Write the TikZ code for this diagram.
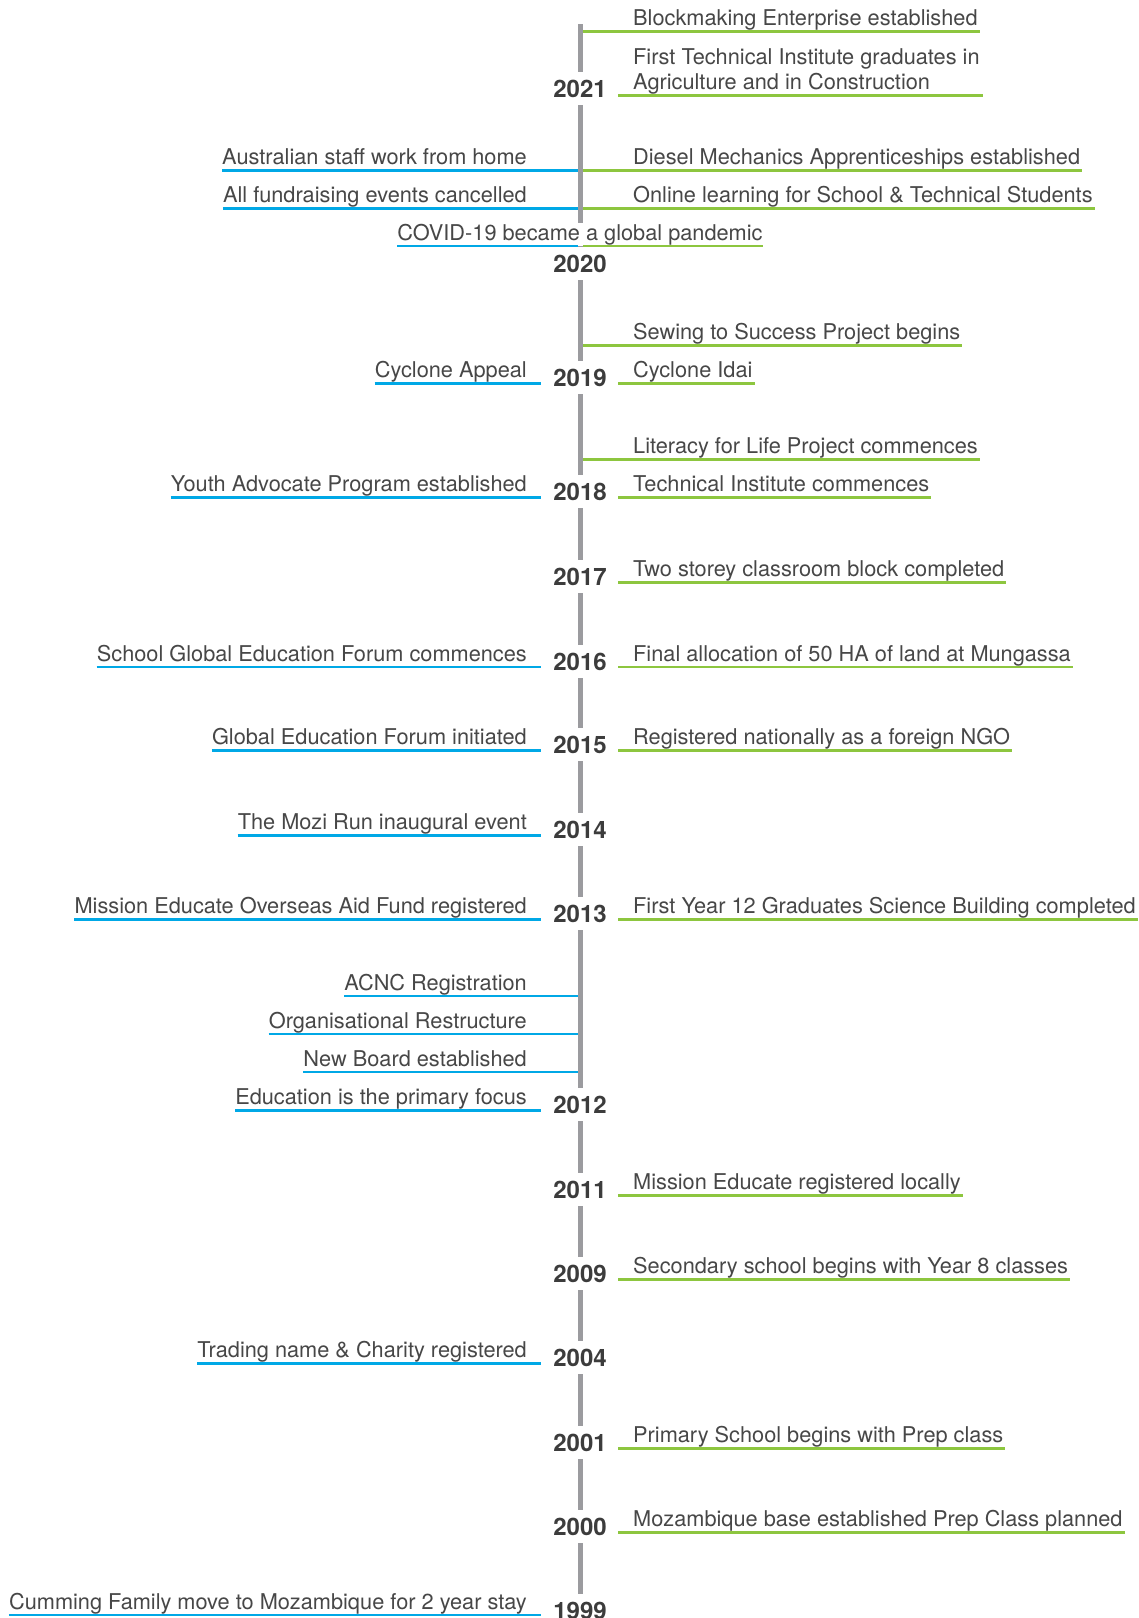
\documentclass[tikz,border=0pt]{standalone}
\usepackage{fontspec}
\setmainfont{TeX Gyre Heros}
\usetikzlibrary{calc}
\definecolor{tlgray}{HTML}{9B9B9F}
\definecolor{tlblue}{HTML}{00A8E6}
\definecolor{tlgreen}{HTML}{8DC63F}
\definecolor{txt}{HTML}{474747}
\definecolor{yrtxt}{HTML}{3C3C3C}
\tikzset{
  yr/.style={anchor=base, inner xsep=2pt, inner ysep=8pt, text height=17pt, text depth=0pt,
    font=\fontsize{24}{28}\selectfont\bfseries, text=yrtxt},
  rt/.style={anchor=base west, inner sep=0pt, font=\fontsize{21.75}{25.6}\selectfont, text=txt},
  lt/.style={anchor=base east, inner sep=0pt, font=\fontsize{21.75}{25.6}\selectfont, text=txt},
  ct/.style={anchor=base, inner xsep=0pt, inner ysep=1pt, fill=white, font=\fontsize{21.75}{25.6}\selectfont, text=txt},
  tl/.style={draw=tlgray, line width=5pt},
  gl/.style={draw=tlgreen, line width=2.5pt},
  bl/.style={draw=tlblue, line width=2.5pt},
}
\newcommand\ritem[4]{%
  \node[rt] (#1) at (633,#3) {#4};
  \coordinate (#1s) at (#2,#3+6);
  \draw[gl] (#1s) -- ($(#1s -| #1.east)+(2,0)$);}
\newcommand\litem[4]{%
  \node[lt] (#1) at (527,#3) {#4};
  \coordinate (#1s) at (#2,#3+6);
  \draw[bl] (#1s -| #1.west) -- (#1s);}
\newcommand\yearnode[2]{\node[yr] (y#1) at (580,#2) {#1};}
\begin{document}
\begin{tikzpicture}[x=1pt,y=-1pt]
\useasboundingbox[fill=white] (0,0) rectangle (1139,1618);
% years
\yearnode{2021}{97}
\yearnode{2020}{272}
\yearnode{2019}{386}
\yearnode{2018}{500}
\yearnode{2017}{585}
\yearnode{2016}{670}
\yearnode{2015}{753}
\yearnode{2014}{838}
\yearnode{2013}{922}
\yearnode{2012}{1113}
\yearnode{2011}{1198}
\yearnode{2009}{1282}
\yearnode{2004}{1366}
\yearnode{2001}{1451}
\yearnode{2000}{1535}
\yearnode{1999}{1619}
% timeline
\coordinate (top) at (580,24);
\draw[tl] (top) -- (y2021.north);
\draw[tl] (y2021.south) -- (y2020.north);
\draw[tl] (y2020.south) -- (y2019.north);
\draw[tl] (y2019.south) -- (y2018.north);
\draw[tl] (y2018.south) -- (y2017.north);
\draw[tl] (y2017.south) -- (y2016.north);
\draw[tl] (y2016.south) -- (y2015.north);
\draw[tl] (y2015.south) -- (y2014.north);
\draw[tl] (y2014.south) -- (y2013.north);
\draw[tl] (y2013.south) -- (y2012.north);
\draw[tl] (y2012.south) -- (y2011.north);
\draw[tl] (y2011.south) -- (y2009.north);
\draw[tl] (y2009.south) -- (y2004.north);
\draw[tl] (y2004.south) -- (y2001.north);
\draw[tl] (y2001.south) -- (y2000.north);
\draw[tl] (y2000.south) -- (y1999.north);
% covid
\node[ct] (covid) at (580,240.5) {COVID-19 became a global pandemic};
\coordinate (covidl) at (578,246);
\coordinate (covidr) at (583,246);
\draw[bl] (covidl -| covid.west) -- (covidl);
\draw[gl] (covidr) -- (covidr -| covid.east);
% right items
\ritem{r1}{583}{25.5}{Blockmaking Enterprise established}
\node[rt] (r2a) at (633,64) {First Technical Institute graduates in};
\node[rt] (r2b) at (633,89.5) {Agriculture and in Construction};
\coordinate (r2s) at (618,95.5);
\draw[gl] (r2s) -- ($(r2s -| r2a.east)+(3,0)$);
\ritem{r3}{583}{164.5}{Diesel Mechanics Apprenticeships established}
\ritem{r4}{583}{202.5}{Online learning for School \& Technical Students}
\ritem{r5}{583}{339.5}{Sewing to Success Project begins}
\ritem{r6}{618}{377.5}{Cyclone Idai}
\ritem{r7}{583}{453.5}{Literacy for Life Project commences}
\ritem{r8}{618}{491.5}{Technical Institute commences}
\ritem{r9}{618}{576.5}{Two storey classroom block completed}
\ritem{r10}{618}{661}{Final allocation of 50 HA of land at Mungassa}
\ritem{r11}{618}{744.5}{Registered nationally as a foreign NGO}
\ritem{r12}{618}{913.5}{First Year 12 Graduates Science Building completed}
\ritem{r13}{618}{1189.5}{Mission Educate registered locally}
\ritem{r14}{618}{1273.5}{Secondary school begins with Year 8 classes}
\ritem{r15}{618}{1442.5}{Primary School begins with Prep class}
\ritem{r16}{618}{1526.5}{Mozambique base established Prep Class planned}
% left items
\litem{l1}{578}{164.5}{Australian staff work from home}
\litem{l2}{578}{202.5}{All fundraising events cancelled}
\litem{l3}{541}{377.5}{Cyclone Appeal}
\litem{l4}{541}{491.5}{Youth Advocate Program established}
\litem{l5}{541}{661}{School Global Education Forum commences}
\litem{l6}{541}{744.5}{Global Education Forum initiated}
\litem{l7}{541}{829.5}{The Mozi Run inaugural event}
\litem{l8}{541}{913.5}{Mission Educate Overseas Aid Fund registered}
\litem{l9}{578}{990}{ACNC Registration}
\litem{l10}{578}{1028}{Organisational Restructure}
\litem{l11}{578}{1066}{New Board established}
\litem{l12}{541}{1104.5}{Education is the primary focus}
\litem{l13}{541}{1357.5}{Trading name \& Charity registered}
\litem{l14}{541}{1609}{Cumming Family move to Mozambique for 2 year stay}
\end{tikzpicture}
\end{document}
